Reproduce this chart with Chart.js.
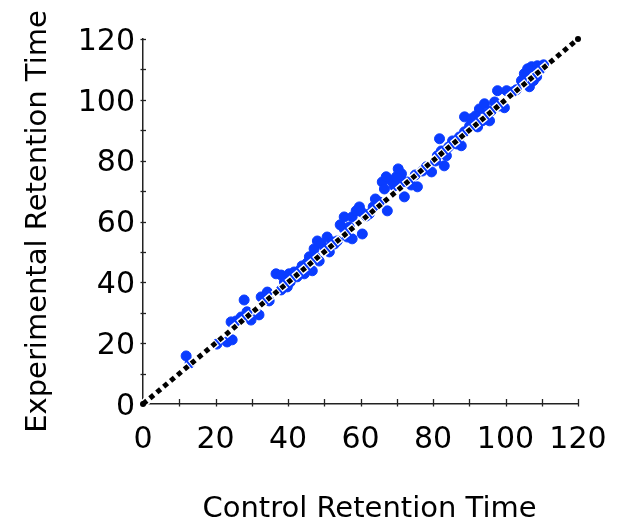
<!DOCTYPE html>
<html>
<head>
<meta charset="utf-8">
<script src="https://cdn.jsdelivr.net/npm/chart.js@4"></script>
<style>
  html, body { margin: 0; padding: 0; background: #ffffff; }
  #wrap { width: 621px; height: 520px; }
</style>
</head>
<body>
<div id="wrap"><canvas id="retentionChart" width="621" height="520"></canvas></div>
<script>
// Retention times: control (x) and experimental (y)
const controlTimes = [
    11.9, 13.0, 20.4, 23.2, 24.6, 24.3, 25.7, 27.1, 27.9, 32.0,
    32.6, 33.7, 34.8, 34.3, 36.7, 38.1, 38.1, 39.8, 40.6, 40.3,
    41.7, 43.1, 43.9, 45.3, 46.7, 45.9, 47.2, 48.1, 49.2, 50.8,
    51.4, 52.8, 53.6, 55.5, 56.4, 57.7, 55.5, 57.7, 59.7, 61.6,
    62.4, 65.2, 67.4, 66.0, 68.5, 69.3, 71.3, 71.5, 72.1, 72.9,
    75.7, 77.1, 79.6, 81.2, 82.6, 83.1, 81.8, 82.3, 83.7, 85.4,
    87.8, 88.7, 88.7, 90.1, 92.3, 92.8, 94.2, 95.0, 95.6, 98.3,
    97.8, 100.3, 101.9, 106.6, 105.2, 107.2, 108.8, 108.6,
    28.7, 29.8, 39.0, 42.5, 44.5, 47.5, 48.6, 50.3, 52.2, 54.4,
    56.9, 60.5, 58.8, 60.2, 63.5, 64.1, 66.6, 67.1, 69.9, 70.4,
    74.0, 75.1, 78.2, 80.7, 84.3, 86.5, 87.3, 90.6, 91.7, 93.6,
    96.1, 97.0, 99.7, 103.0, 104.4, 106.1, 107.7, 109.7, 110.5
];
const experimentalTimes = [
    15.8, 13.5, 19.7, 20.4, 21.1, 27.0, 27.3, 28.6, 34.2, 29.3,
    35.2, 35.5, 33.9, 36.8, 42.8, 42.4, 37.5, 38.5, 40.1, 42.8,
    43.4, 43.8, 45.4, 46.4, 43.8, 48.4, 51.0, 53.6, 52.6, 54.9,
    50.0, 52.6, 53.6, 57.6, 54.9, 54.3, 61.5, 61.5, 64.8, 61.8,
    62.5, 66.4, 63.5, 73.0, 73.4, 71.7, 75.7, 73.0, 68.1, 73.0,
    71.4, 76.6, 76.3, 81.6, 82.9, 78.3, 87.2, 83.2, 81.6, 86.5,
    84.9, 94.4, 89.5, 91.4, 91.1, 97.0, 98.7, 95.4, 93.1, 98.0,
    103.0, 103.0, 102.6, 104.3, 108.6, 110.9, 111.2, 107.6,
    30.3, 27.6, 40.1, 41.8, 42.8, 48.4, 47.0, 51.0, 53.3, 58.9,
    58.2, 55.9, 63.5, 63.2, 64.8, 67.4, 70.7, 74.7, 74.7, 77.3,
    72.0, 75.3, 78.0, 79.9, 84.5, 85.5, 87.8, 93.8, 94.7, 93.1,
    96.4, 99.3, 97.4, 103.3, 106.3, 110.2, 106.3, 110.2, 111.5
];

// The y = x reference line
const identityX = [0, 120];
const identityY = [0, 120];

// Axis range and tick step (labels only on every second tick)
const axisMin = 0;
const axisMax = 120;
const tickStep = 10;
const labelStep = 20;

const xTitle = 'Control Retention Time';
const yTitle = 'Experimental Retention Time';

const fontFamily = '"DejaVu Sans", sans-serif';
const axisColor = '#222222';

const scatterPoints = controlTimes.map((x, i) => ({ x: x, y: experimentalTimes[i] }));
const identityPoints = identityX.map((x, i) => ({ x: x, y: identityY[i] }));

// Small tick marks that cross the axis line, one for every tickStep,
// plus the x title, which sits a bit right of the plot centre in the original
const axisExtras = {
    id: 'axisExtras',
    afterDraw(chart) {
        const ctx = chart.ctx;
        const xScale = chart.scales.x;
        const yScale = chart.scales.y;
        const area = chart.chartArea;
        ctx.save();
        ctx.strokeStyle = axisColor;
        ctx.lineWidth = 1.3;
        for (let v = axisMin + tickStep; v <= axisMax; v += tickStep) {
            const px = Math.round(xScale.getPixelForValue(v)) + 0.5;
            ctx.beginPath();
            ctx.moveTo(px, area.bottom - 5);
            ctx.lineTo(px, area.bottom + 2.5);
            ctx.stroke();

            const py = Math.round(yScale.getPixelForValue(v)) + 0.5;
            ctx.beginPath();
            ctx.moveTo(area.left - 2.5, py);
            ctx.lineTo(area.left + 3, py);
            ctx.stroke();
        }

        ctx.fillStyle = '#000000';
        ctx.font = '29px ' + fontFamily;
        ctx.textAlign = 'center';
        ctx.textBaseline = 'alphabetic';
        ctx.fillText(xTitle, (area.left + area.right) / 2 + 9, chart.height - 3);
        ctx.restore();
    }
};

function tickLabel(value) {
    return value % labelStep === 0 ? String(value) : '';
}

const ctx = document.getElementById('retentionChart').getContext('2d');
new Chart(ctx, {
    type: 'scatter',
    data: {
        datasets: [
            {
                // black dashes, drawn on top (dataset 0 is drawn last)
                data: identityPoints,
                showLine: true,
                borderColor: '#000000',
                borderWidth: 5,
                borderDash: [5, 4],
                borderCapStyle: 'butt',
                pointRadius: 3,
                pointBackgroundColor: '#000000',
                pointBorderWidth: 0,
                clip: false
            },
            {
                // white halo under the dashes
                data: identityPoints,
                showLine: true,
                borderColor: '#ffffff',
                borderWidth: 8,
                borderDash: [7, 2],
                borderDashOffset: 1,
                borderCapStyle: 'butt',
                pointRadius: 0,
                clip: false
            },
            {
                data: scatterPoints,
                pointRadius: 5,
                pointBackgroundColor: '#0a3cff',
                pointBorderColor: '#0a3cff',
                pointBorderWidth: 1
            }
        ]
    },
    options: {
        responsive: false,
        animation: false,
        events: [],
        layout: {
            padding: { left: 0, right: 43, top: 39, bottom: 0 }
        },
        plugins: {
            legend: { display: false },
            tooltip: { enabled: false }
        },
        scales: {
            x: {
                type: 'linear',
                min: axisMin,
                max: axisMax,
                grid: { display: false, drawTicks: false },
                border: { display: true, color: axisColor, width: 1.5 },
                ticks: {
                    stepSize: tickStep,
                    autoSkip: false,
                    maxRotation: 0,
                    padding: 14,
                    color: '#000000',
                    font: { family: fontFamily, size: 30, lineHeight: 1.5 },
                    callback: tickLabel
                },
                title: { display: false },
                afterFit(scale) { scale.height = 116; }
            },
            y: {
                type: 'linear',
                min: axisMin,
                max: axisMax,
                grid: { display: false, drawTicks: false },
                border: { display: true, color: axisColor, width: 1.5 },
                ticks: {
                    stepSize: tickStep,
                    autoSkip: false,
                    padding: 8,
                    labelOffset: 3,
                    color: '#000000',
                    font: { family: fontFamily, size: 30 },
                    callback: tickLabel
                },
                title: {
                    display: true,
                    text: yTitle,
                    color: '#000000',
                    font: { family: fontFamily, size: 29 },
                    padding: { top: 21, bottom: 0 }
                },
                afterFit(scale) { scale.width = 143; }
            }
        }
    },
    plugins: [axisExtras]
});
</script>
</body>
</html>
